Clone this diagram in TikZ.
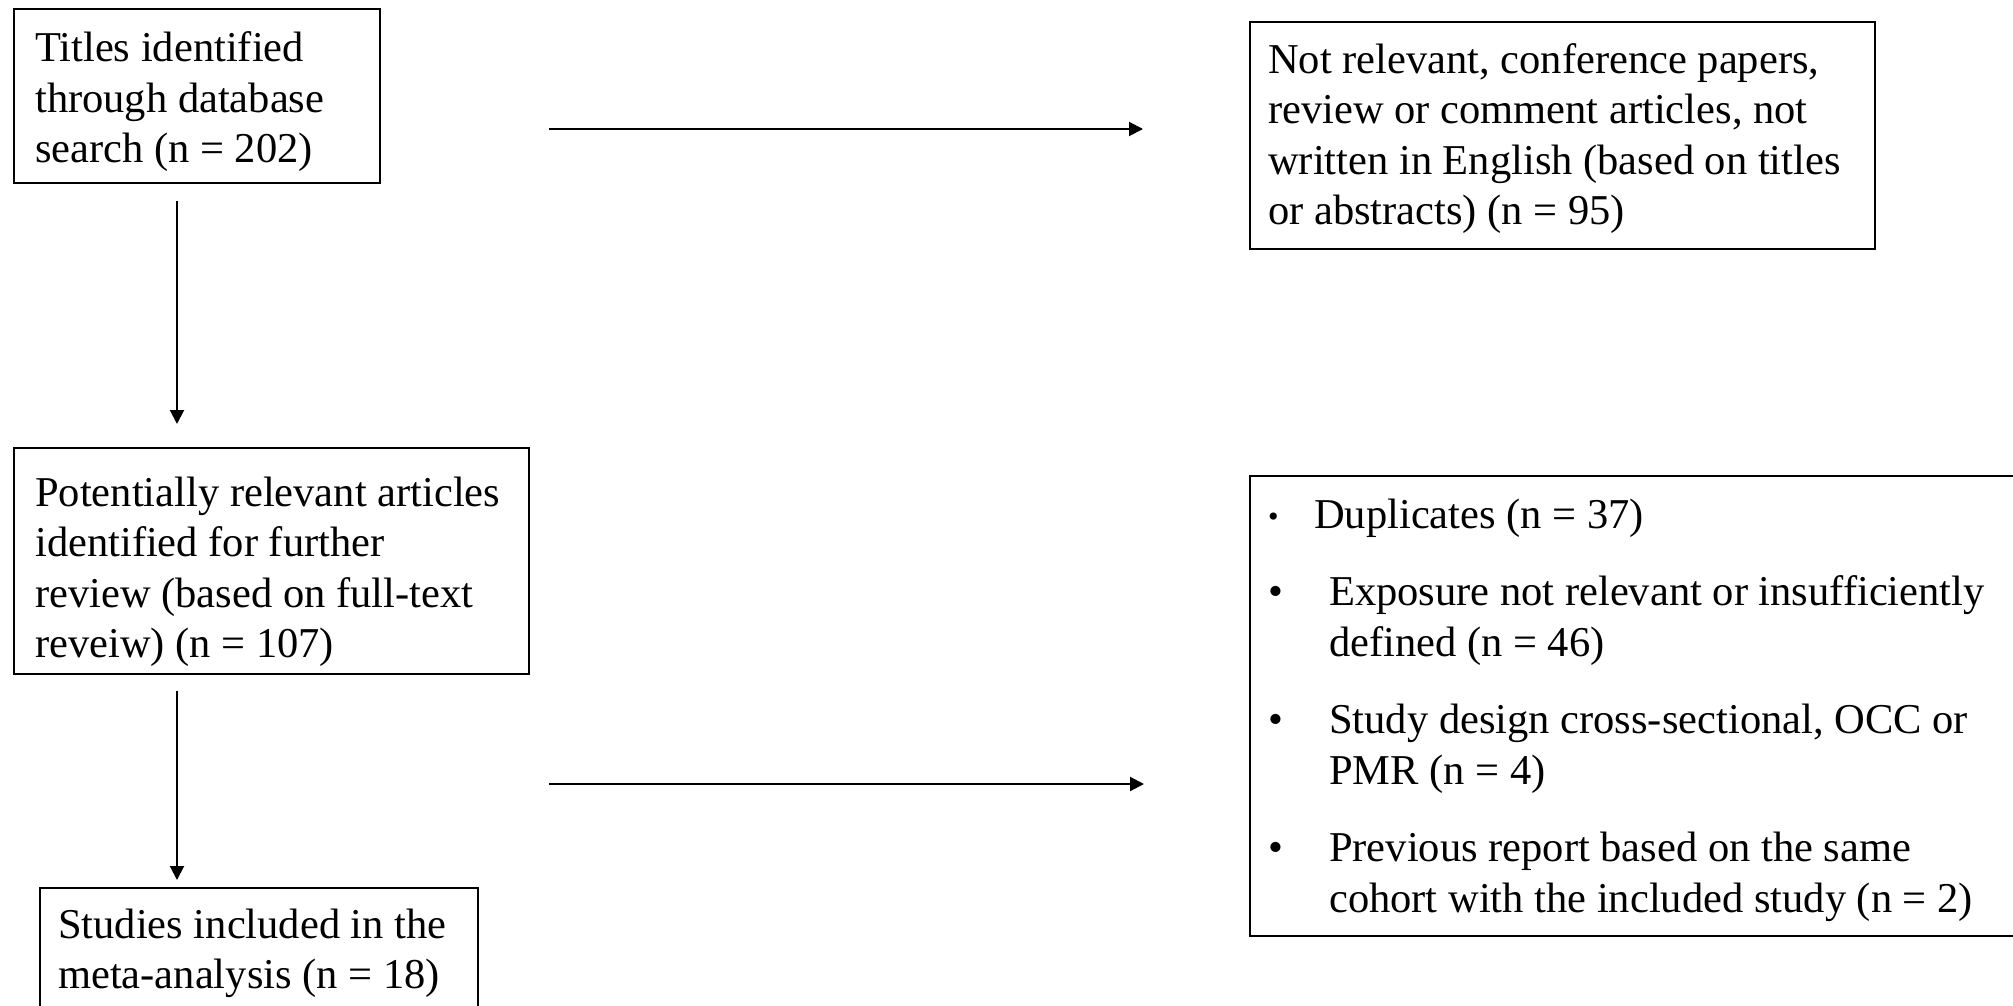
\documentclass[tikz,border=0pt]{standalone}
\usepackage{fontspec}
\setmainfont{Liberation Serif}
\usetikzlibrary{arrows.meta}
% line strut: height + depth equal to the baseline skip
\newcommand\ls{\rule[-10.7pt]{0pt}{50.5pt}}
% bullet columns of the exclusion list
\newcommand\bigbul{\makebox[80pt][l]{\hspace{19pt}•}}
\newcommand\smallbul{\makebox[65pt][l]{\hspace{19pt}{\fontsize{30pt}{30pt}\selectfont\raisebox{2pt}{•}}}}
\newcommand\cont{\hspace*{80pt}}
\begin{document}
\begin{tikzpicture}[x=1pt,y=-1pt,
  box/.style={draw, line width=2.2pt, inner sep=0pt, anchor=north west},
  txt/.style={inner sep=0pt, anchor=north west, align=left,
              font=\fontsize{42.5pt}{50.5pt}\selectfont},
  arr/.style={line width=2pt, -{Triangle[length=14pt,width=14pt]}}]
\fill[white] (0,0) rectangle (2013,1006);
\useasboundingbox (0,0) rectangle (2013,1006);
\clip (0,0) rectangle (2013,1006);

% boxes
\node[box, minimum width=366pt, minimum height=174pt] (b1) at (13,8) {};
\node[box, minimum width=515pt, minimum height=226pt] (b2) at (13,447) {};
\node[box, minimum width=438pt, minimum height=200pt] (b3) at (39,887) {};
\node[box, minimum width=625pt, minimum height=227pt] (b4) at (1249,21) {};
\node[box, minimum width=800pt, minimum height=460pt] (b5) at (1249,475) {};

% texts
\node[txt] (t1) at (35,22) {Titles identified\ls\\through database\ls\\search (n = 202)\ls};
\node[txt] (t2) at (35,466) {Potentially relevant articles\ls\\identified for further\ls\\review (based on full-text\ls\\reveiw) (n = 107)\ls};
\node[txt] (t3) at (58,898) {Studies included in the\ls\\meta-analysis (n = 18)\ls};
\node[txt] (t4) at (1268,33) {Not relevant, conference papers,\ls\\review or comment articles, not\ls\\written in English (based on titles\ls\\or abstracts) (n = 95)\ls};
\node[txt] (t5) at (1249,488) {\smallbul Duplicates (n = 37)\ls\\[27pt]\bigbul Exposure not relevant or insufficiently\ls\\\cont defined (n = 46)\ls\\[27pt]\bigbul Study design cross-sectional, OCC or\ls\\\cont PMR (n = 4)\ls\\[27pt]\bigbul Previous report based on the same\ls\\\cont cohort with the included study (n = 2)\ls};

% connectors
\coordinate (colx) at (177,0);
\draw[arr, shorten <=17pt, shorten >=23pt] (b1.south -| colx) -- (b2.north -| colx);
\draw[arr, shorten <=16pt, shorten >=7pt] (b2.south -| colx) -- (b3.north -| colx);
\coordinate (h1) at (549,129);
\draw[arr, shorten >=106pt] (h1) -- (h1 -| b4.west);
\coordinate (h2) at (549,784);
\draw[arr, shorten >=105pt] (h2) -- (h2 -| b5.west);
\end{tikzpicture}
\end{document}
